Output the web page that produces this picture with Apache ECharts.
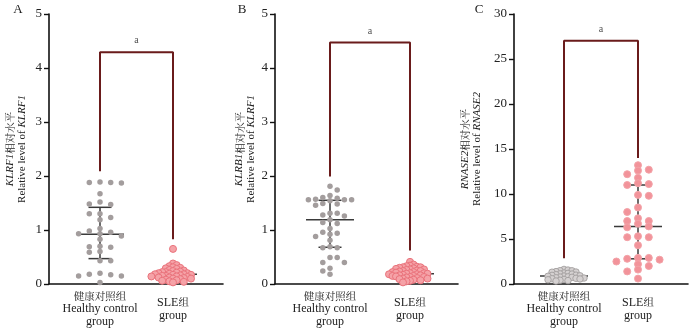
<!DOCTYPE html>
<html><head><meta charset="utf-8">
<script src="https://cdn.jsdelivr.net/npm/echarts@6/dist/echarts.min.js"></script>
<style>html,body{margin:0;padding:0;background:#fff}#c{width:700px;height:332px}</style>
</head><body><div id="c"></div>
<script>
// ================= DATA =================
const categories = ['健康对照组\nHealthy control\ngroup', 'SLE组\ngroup'];
const panelLetters = ['A', 'B', 'C'];
const yNameGene = ['KLRF1', 'KLRB1', 'RNASE2'];
const yNameGene2 = ['KLRF1', 'KLRF1', 'RNASE2'];
const yNameCn = '相对水平';
const yNameEn = 'Relative level of ';
const yMax = [5, 5, 30];
const yInterval = [1, 1, 5];
const sigLabel = 'a';

const healthyA = [1.87,1.89,1.88,1.88,1.67,1.52,1.47,1.48,1.30,1.23,1.30,1.19,1.03,0.98,0.93,0.93,0.96,0.89,0.83,0.68,0.70,0.69,0.59,0.60,0.43,0.43,0.20,0.15,0.18,0.15,0.17,0.03];
const sleA = [0.65,0.38,0.35,0.33,0.31,0.30,0.29,0.28,0.26,0.25,0.24,0.23,0.22,0.22,0.21,0.20,0.20,0.19,0.18,0.18,0.17,0.17,0.16,0.15,0.15,0.14,0.14,0.13,0.12,0.12,0.11,0.10,0.10,0.09,0.08,0.07,0.06,0.05,0.04,0.03];
const healthyB = [1.81,1.74,1.64,1.60,1.59,1.57,1.56,1.56,1.56,1.54,1.49,1.48,1.46,1.31,1.31,1.28,1.26,1.19,1.14,1.12,1.03,0.96,0.94,0.92,0.88,0.81,0.69,0.67,0.67,0.49,0.49,0.40,0.40,0.29,0.24,0.18];
const sleB = [0.41,0.36,0.34,0.33,0.32,0.31,0.31,0.30,0.29,0.28,0.27,0.27,0.26,0.25,0.24,0.24,0.23,0.22,0.22,0.21,0.20,0.20,0.19,0.19,0.18,0.18,0.17,0.16,0.16,0.15,0.15,0.14,0.13,0.13,0.12,0.11,0.10,0.10,0.09,0.08,0.07,0.06,0.05,0.03];
const healthyC = [1.62,1.55,1.48,1.47,1.38,1.33,1.31,1.22,1.18,1.12,1.10,1.03,0.98,0.96,0.91,0.88,0.86,0.79,0.77,0.74,0.69,0.66,0.63,0.58,0.56,0.51,0.47,0.42,0.38,0.33];
const sleC = [13.2,12.7,12.6,12.2,11.8,11.2,11.0,11.1,9.8,9.9,8.5,8.0,7.0,7.0,7.3,6.7,6.3,6.4,5.2,5.2,5.3,4.3,2.7,2.8,2.9,2.9,2.5,2.0,2.2,1.6,1.4,0.6];

// [low, median, high] per group: healthy, SLE
const summaryA = [[0.47, 0.92, 1.42], [0.12, 0.18, 0.24]];
const summaryB = [[0.68, 1.19, 1.55], [0.11, 0.19, 0.27]];
const summaryC = [[0.55, 0.90, 1.25], [2.80, 6.40, 11.0]];

// bracket: [left end, top, right end]
const bracketA = [2.09, 4.29, 0.83];
const bracketB = [1.99, 4.47, 0.62];
const bracketC = [2.86, 27.03, 14.0];

const groups = [[healthyA, sleA], [healthyB, sleB], [healthyC, sleC]];
const summaries = [summaryA, summaryB, summaryC];
const brackets = [bracketA, bracketB, bracketC];

// ================= LAYOUT / STYLE =================
const GRID_TOP = 14, GRID_H = 270;
const layout = [
  {left: 49, width: 174, c0: 100, c1: 173, nameGap: 21, letterX: 18},
  {left: 275, width: 183, c0: 330, c1: 410, nameGap: 15, letterX: 242},
  {left: 514, width: 174, c0: 564, c1: 638, nameGap: 31, letterX: 479}
];
// per group dot style & swarm spacing (px)
const dotStyle = [
  [{size: 5.5, sx: 10.7, sy: 5.0, color: '#a39d9d', border: '#a39d9d', bw: 0},
   {size: 7, sx: 3.6, sy: 3.4, color: '#f5a2a7', border: '#ea737c', bw: 1}],
  [{size: 5.5, sx: 7.2, sy: 5.0, color: '#a39d9d', border: '#a39d9d', bw: 0},
   {size: 7, sx: 3.5, sy: 3.4, color: '#f5a2a7', border: '#ea737c', bw: 1}],
  [{size: 6.5, sx: 4.0, sy: 3.0, color: '#d5d1d1', border: '#9c9898', bw: 0.8},
   {size: 7, sx: 10.8, sy: 5.0, color: '#f2939a', border: '#f3a3a8', bw: 1}]
];
const SERIF = '"Liberation Serif","Times New Roman",serif';
const CJK = '"Noto Serif CJK SC","Noto Sans CJK SC",sans-serif';

function swarm(vals, pyu, sx, sy) {
  const idx = vals.map((v, i) => i).sort((a, b) => vals[b] - vals[a]);
  const placed = [];
  const off = new Array(vals.length).fill(0);
  const step = sx / 2;
  let flip = 1;
  for (const i of idx) {
    const y = vals[i] * pyu;
    for (let n = 0; n < 400; n++) {
      const k = Math.ceil(n / 2);
      const cand = n === 0 ? 0 : ((n % 2 === 1) ? flip : -flip) * k * step;
      let ok = true;
      for (const p of placed) {
        if (Math.abs(p.x - cand) < sx - 1e-6 && Math.abs(p.y - y) < sy - 1e-6) { ok = false; break; }
      }
      if (ok) { off[i] = cand; placed.push({x: cand, y}); if (cand !== 0) flip = -flip; break; }
    }
  }
  return off;
}

function richify(line) {
  return line.split(/([\u4e00-\u9fff]+)/).filter(s => s).map(s =>
    /[\u4e00-\u9fff]/.test(s) ? `{c|${s}}` : `{e|${s}}`).join('');
}

const grids = [], xAxes = [], yAxes = [], series = [], graphics = [];

layout.forEach((L, p) => {
  const ppu = L.c1 - L.c0;
  const xmin = -(L.c0 - L.left) / ppu;
  const xmax = 1 + (L.left + L.width - L.c1) / ppu;
  const pyu = GRID_H / yMax[p];
  grids.push({left: L.left, top: GRID_TOP, width: L.width, height: GRID_H, containLabel: false});
  xAxes.push({
    type: 'value', gridIndex: p, min: xmin, max: xmax,
    splitLine: {show: false}, axisTick: {show: false},
    axisLine: {show: true, onZero: false, lineStyle: {color: '#111', width: 1.6}},
    axisLabel: {
      show: true, margin: 25, verticalAlign: 'middle', showMinLabel: false, showMaxLabel: false,
      formatter: v => {
        if (Math.abs(v) < 1e-6) return categories[0].split('\n').map(richify).join('\n');
        if (Math.abs(v - 1) < 1e-6) return categories[1].split('\n').map(richify).join('\n');
        return '';
      },
      rich: {
        c: {fontFamily: CJK, fontSize: 10.5, lineHeight: 13, color: '#222'},
        e: {fontFamily: SERIF, fontSize: 12, lineHeight: 13, color: '#222'}
      }
    }
  });
  yAxes.push({
    type: 'value', gridIndex: p, min: 0, max: yMax[p], interval: yInterval[p],
    splitLine: {show: false},
    axisLine: {show: true, onZero: false, lineStyle: {color: '#111', width: 1.6}},
    axisTick: {show: true, inside: false, length: 5, lineStyle: {color: '#111', width: 1.4}},
    axisLabel: {margin: 7, fontFamily: SERIF, fontSize: 13, color: '#222'},
    name: `{i|${yNameGene[p]}}{c|${yNameCn}}\n{e|${yNameEn}}{i|${yNameGene2[p]}}`,
    nameLocation: 'middle', nameGap: L.nameGap, nameRotate: 90,
    nameTextStyle: {
      lineHeight: 12,
      rich: {
        i: {fontFamily: SERIF, fontStyle: 'italic', fontSize: 11, lineHeight: 12, color: '#222'},
        c: {fontFamily: CJK, fontSize: 10.5, lineHeight: 12, color: '#222'},
        e: {fontFamily: SERIF, fontSize: 11, lineHeight: 12, color: '#222'}
      }
    }
  });

  // error bars (median / range)
  const sm = summaries[p];
  series.push({
    type: 'custom', xAxisIndex: p, yAxisIndex: p, z: 2, silent: true,
    data: sm.map((s, g) => [g, s[0], s[1], s[2]]),
    encode: {x: 0, y: [1, 2, 3]},
    renderItem: (params, api) => {
      const c = api.value(0);
      const lo = api.coord([c, api.value(1)]);
      const md = api.coord([c, api.value(2)]);
      const hi = api.coord([c, api.value(3)]);
      const x = md[0];
      const st = {stroke: '#3a3a3a', lineWidth: 1.5};
      return {type: 'group', children: [
        {type: 'line', shape: {x1: x, y1: hi[1], x2: x, y2: lo[1]}, style: st},
        {type: 'line', shape: {x1: x - 24, y1: md[1], x2: x + 24, y2: md[1]}, style: st},
        {type: 'line', shape: {x1: x - 11.5, y1: hi[1], x2: x + 11.5, y2: hi[1]}, style: st},
        {type: 'line', shape: {x1: x - 11.5, y1: lo[1], x2: x + 11.5, y2: lo[1]}, style: st}
      ]};
    }
  });

  // dots
  groups[p].forEach((vals, g) => {
    const ds = dotStyle[p][g];
    const off = swarm(vals, pyu, ds.sx, ds.sy);
    series.push({
      type: 'scatter', xAxisIndex: p, yAxisIndex: p, z: 3, silent: true,
      symbolSize: ds.size,
      itemStyle: {color: ds.color, borderColor: ds.border, borderWidth: ds.bw, opacity: 1},
      data: vals.map((v, i) => [g + off[i] / ppu, v])
    });
  });

  // significance bracket
  const b = brackets[p];
  series.push({
    type: 'line', xAxisIndex: p, yAxisIndex: p, z: 4, silent: true,
    symbol: 'none',
    lineStyle: {color: '#6a1b1b', width: 2},
    data: [[0, b[0]], [0, b[1]], [1, b[1]], [1, b[2]]]
  });
  series.push({
    type: 'scatter', xAxisIndex: p, yAxisIndex: p, z: 4, silent: true,
    symbolSize: 1, itemStyle: {color: 'rgba(0,0,0,0)'},
    label: {show: true, position: 'top', distance: 6, formatter: sigLabel,
      fontFamily: SERIF, fontSize: 10, color: '#222'},
    data: [[0.5, b[1]]]
  });

  graphics.push({
    type: 'text', x: L.letterX, y: 10,
    style: {text: panelLetters[p], font: '13px ' + SERIF, fill: '#222',
      textAlign: 'center', textVerticalAlign: 'middle'}
  });
});

const chart = echarts.init(document.getElementById('c'), null, {renderer: 'canvas'});
chart.setOption({
  animation: false,
  backgroundColor: '#fff',
  grid: grids, xAxis: xAxes, yAxis: yAxes, series: series,
  graphic: graphics
});
</script></body></html>
